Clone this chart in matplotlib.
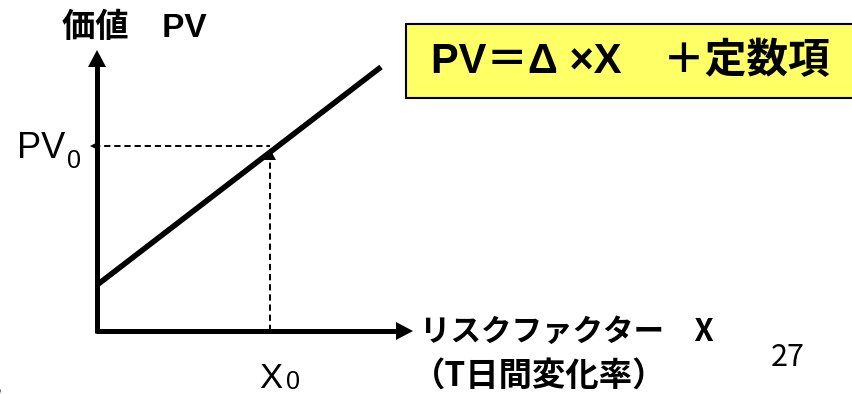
import matplotlib
matplotlib.use("Agg")
import matplotlib.pyplot as plt
from matplotlib.patches import Rectangle, Polygon

plt.rcParams['lines.scale_dashes'] = False

# ---- data (chart units; origin at the axes corner) ----
risk_factor = [0, 284]          # X values of the PV line
pv_values = [46, 264]           # PV values of the PV line
x0 = [173]                      # X0
pv0 = [185]                     # PV0
x_axis_end = [316]
y_axis_end = [281]

title_y = "価値　PV"
title_x_1 = "リスクファクター　X"
title_x_2 = "（T日間変化率）"
formula = "PV＝Δ ×X　＋定数項"
page_no = "27"

# ---- figure ----
W, H = 852, 394
ox, oy = 97, 331   # pixel location of origin
fig = plt.figure(figsize=(W / 100, H / 100), dpi=100)
ax = fig.add_axes([0, 0, 1, 1])
ax.set_xlim(-ox, W - ox)
ax.set_ylim(oy - H, oy)
ax.axis('off')

CJK = ['Liberation Sans', 'Noto Sans CJK JP']
CJK_ONLY = ['Noto Sans CJK JP', 'DejaVu Sans']

def head(tip, direction, length, half_w, **kw):
    tx, ty = tip
    dx, dy = direction
    bx, by = tx - dx * length, ty - dy * length
    px, py = -dy, dx
    ax.add_patch(Polygon([(tx, ty), (bx + px * half_w, by + py * half_w),
                          (bx - px * half_w, by - py * half_w)],
                         closed=True, facecolor='black', edgecolor='none', **kw))

# axes
ax.plot([-1.5, x_axis_end[0] - 14], [0, 0], color='black', lw=3.6, solid_capstyle='butt')
ax.plot([0, 0], [-1.5, y_axis_end[0] - 14], color='black', lw=3.6, solid_capstyle='butt')
head((x_axis_end[0], 0), (1, 0), 17, 9)
head((0, y_axis_end[0]), (0, 1), 17, 9)

# dashed guides
ax.plot([-3, x0[0]], [pv0[0], pv0[0]], color='black', lw=1.4, dashes=(4.5, 2.8))
ax.plot([x0[0], x0[0]], [0, pv0[0] - 6], color='black', lw=1.4, dashes=(4.5, 2.8))
head((-7, pv0[0]), (-1, 0), 9, 4.5, zorder=3)
head((x0[0], pv0[0] - 3), (0, 1), 11, 6, zorder=3)

# PV line
ax.plot(risk_factor, pv_values, color='black', lw=4.0, solid_capstyle='butt', zorder=4)

# formula box
ax.add_patch(Rectangle((406 - ox, oy - 98), 460, 74, facecolor='#FFFF66',
                       edgecolor='black', lw=1.5, zorder=2))
ax.text(630 - ox, oy - 62, formula, ha='center', va='center', fontsize=30,
        fontweight='bold', family=CJK, zorder=5)

# labels
ax.text(134 - ox, oy - 28, title_y, ha='center', va='center', fontsize=24,
        fontweight='bold', family=CJK)
ax.text(41 - ox, oy - 148, "PV", ha='center', va='center', fontsize=26, family=CJK)
ax.text(74 - ox, oy - 161, "0", ha='center', va='center', fontsize=18, family=CJK)
ax.text(271 - ox, oy - 378, "X", ha='center', va='center', fontsize=25, family=CJK)
ax.text(293 - ox, oy - 382, "0", ha='center', va='center', fontsize=18, family=CJK)

ax.text(420 - ox, oy - 332, title_x_1, ha='left', va='center', fontsize=22,
        fontweight='bold', family=CJK_ONLY)
ax.text(412 - ox, oy - 376, title_x_2, ha='left', va='center', fontsize=24,
        fontweight='bold', family=CJK_ONLY)
ax.text(788 - ox, oy - 358, page_no, ha='center', va='center', fontsize=22,
        family=CJK_ONLY)
ax.text(-8 - ox, oy - 386, "。", ha='left', va='center', fontsize=18,
        family=CJK_ONLY)

fig.savefig("out.png", dpi=100)
